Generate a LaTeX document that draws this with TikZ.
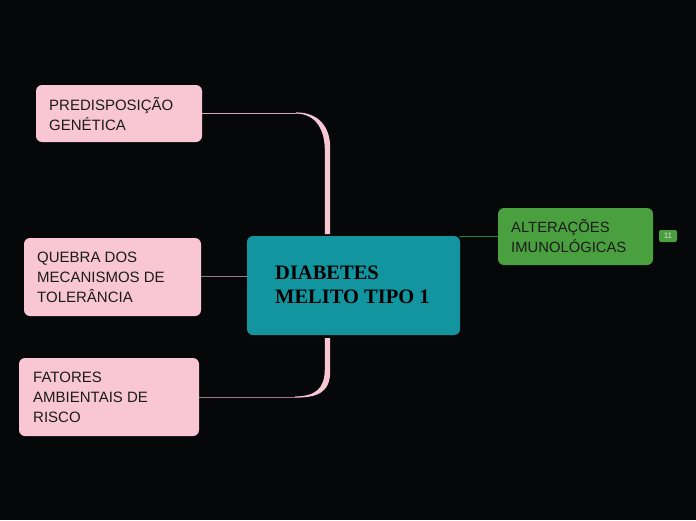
\documentclass[tikz,border=0pt]{standalone}
\usepackage{fontspec}
\setmainfont{Liberation Serif}
\setsansfont{Liberation Sans}
\usetikzlibrary{calc}
\definecolor{bgc}{HTML}{060709}
\definecolor{pinkc}{HTML}{F9C7D3}
\definecolor{tealc}{HTML}{13959F}
\definecolor{greenc}{HTML}{4A9F3E}
\definecolor{txtc}{HTML}{1B1B1B}
\definecolor{pinkline}{HTML}{9A7880}
\definecolor{greenline}{HTML}{1B8A3C}
\tikzset{
  boxfill/.style={rounded corners=6pt},
  leaftext/.style={anchor=west, text=txtc, align=left, font=\sffamily\fontsize{15}{20}\selectfont, inner sep=0pt},
  centertext/.style={anchor=west, text=black, align=left, font=\rmfamily\bfseries\fontsize{20.5}{24}\selectfont, inner sep=0pt},
  greentext/.style={anchor=west, text=txtc, align=left, font=\sffamily\fontsize{14.8}{20}\selectfont, inner sep=0pt},
  badge/.style={fill=greenc, rounded corners=2pt, text=white!85!black, font=\sffamily\fontsize{8}{9}\selectfont, inner sep=0pt, minimum width=18pt, minimum height=12pt},
  thinpink/.style={draw=pinkline, line width=1pt},
  thingreen/.style={draw=greenline, line width=1pt},
}
\begin{document}
\begin{tikzpicture}[x=1pt,y=-1pt]
\fill[bgc] (0,0) rectangle (696,520);
\useasboundingbox (0,0) rectangle (696,520);
% boxes
\fill[pinkc, boxfill] (36,85) rectangle (202,142);
\node[leaftext] (pg) at (49,113.5) {PREDISPOSIÇÃO\\GENÉTICA};
\coordinate (pgE) at (202,113);
\fill[pinkc, boxfill] (24,238) rectangle (201,316);
\node[leaftext] (qd) at (37,277) {QUEBRA DOS\\MECANISMOS DE\\TOLERÂNCIA};
\coordinate (qdE) at (201,276);
\fill[pinkc, boxfill] (19,358) rectangle (199,436);
\node[leaftext] (fa) at (33,397.5) {FATORES\\AMBIENTAIS DE\\RISCO};
\coordinate (faE) at (199,397);
% center
\fill[tealc, boxfill] (247,236) rectangle (460,335);
\node[centertext] (c) at (275,285) {DIABETES\\MELITO TIPO 1};
\coordinate (cN) at (327.5,236);
\coordinate (cS) at (327.5,335);
\coordinate (cW) at (247,276);
\coordinate (cE) at (460,236.5);
% green
\fill[greenc, boxfill] (498,208) rectangle (653,265);
\node[greentext] (al) at (511,236.5) {ALTERAÇÕES\\IMUNOLÓGICAS};
\coordinate (alW) at (498,236.5);
\node[badge] (b) at (668,236) {11};
% connectors
\draw[thinpink, draw=pinkc!85!black] (pgE) -- ++(94,0);
\fill[pinkc] ($(pgE)+(94,-0.6)$) .. controls ++(22,0) and ++(0,-22) .. ($(cN)+(2.7,-88)$) -- ($(cN)+(2.7,-2)$) -- ($(cN)+(-2.7,-2)$) -- ($(cN)+(-2.7,-86)$) .. controls ++(0,-20) and ++(20,0) .. ($(pgE)+(94,0.6)$) -- cycle;
\draw[thinpink] (qdE) -- (cW);
\draw[thinpink] (faE) -- ++(96,0);
\fill[pinkc] ($(faE)+(96,0.6)$) .. controls ++(22,0) and ++(0,22) .. ($(cS)+(2.7,36)$) -- ($(cS)+(2.7,3)$) -- ($(cS)+(-2.7,3)$) -- ($(cS)+(-2.7,34)$) .. controls ++(0,20) and ++(20,0) .. ($(faE)+(96,-0.6)$) -- cycle;
\draw[thingreen] (cE) -- (alW);
\end{tikzpicture}
\end{document}
